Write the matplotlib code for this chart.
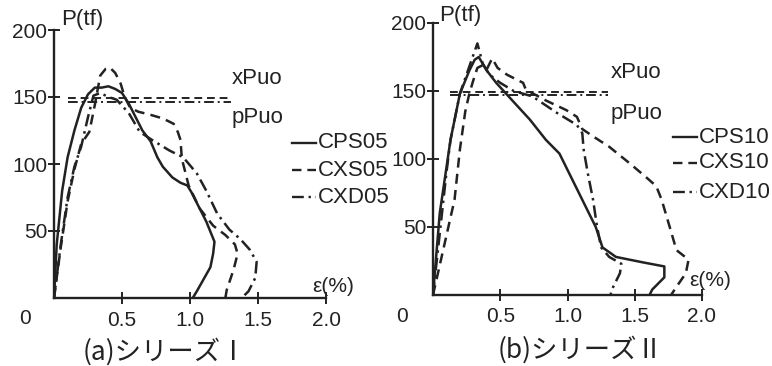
# 荷重-ひずみ曲線 (シリーズI, II)
import matplotlib
matplotlib.use("Agg")
import matplotlib.pyplot as plt
from matplotlib.lines import Line2D

W, H = 772, 366

# ---- シリーズI ----
cps05_x = [0, 0.02, 0.06, 0.10, 0.15, 0.20, 0.25, 0.30, 0.35, 0.40, 0.45, 0.50, 0.55, 0.60, 0.65,
           0.71, 0.76, 0.80, 0.87, 0.93, 0.98, 1.01, 1.07, 1.12, 1.18, 1.17, 1.15, 1.10, 1.05, 1.02]
cps05_y = [0, 40, 80, 105, 125, 142, 152, 157, 157, 158, 156, 153, 145, 135, 125,
           117, 105, 98, 90, 86, 84, 79, 67, 57, 42, 33, 23, 14, 5, 0]
cxs05_x = [0, 0.05, 0.10, 0.15, 0.20, 0.26, 0.30, 0.34, 0.38, 0.41, 0.45, 0.49, 0.52, 0.56, 0.62,
           0.70, 0.80, 0.88, 0.91, 0.93, 0.94, 0.99, 1.07, 1.17, 1.26, 1.33, 1.35, 1.32, 1.27, 1.26]
cxs05_y = [0, 38, 72, 96, 115, 124, 144, 166, 171, 172, 168, 160, 150, 142, 139,
           137, 134, 130, 124, 118, 104, 84, 67, 54, 47, 40, 33, 21, 6, 0]
cxd05_x = [0, 0.05, 0.10, 0.15, 0.20, 0.25, 0.29, 0.34, 0.40, 0.46, 0.55, 0.63, 0.72, 0.85,
           0.95, 1.05, 1.12, 1.20, 1.29, 1.37, 1.44, 1.49, 1.48, 1.43, 1.38]
cxd05_y = [0, 40, 75, 98, 113, 135, 151, 153, 150, 148, 138, 124, 118, 110,
           105, 93, 80, 63, 51, 44, 36, 27, 15, 5, 0]

# ---- シリーズII ----
cps10_x = [0, 0.05, 0.13, 0.20, 0.27, 0.31, 0.34, 0.37, 0.40, 0.47, 0.59, 0.72, 0.84, 0.94,
           1.00, 1.11, 1.21, 1.26, 1.36, 1.56, 1.72, 1.72, 1.63, 1.61]
cps10_y = [0, 60, 114, 148, 165, 173, 175, 170, 165, 156, 143, 129, 114, 104,
           92, 70, 50, 35, 28, 24, 21, 13, 4, 0]
cxs10_x = [0, 0.08, 0.16, 0.20, 0.24, 0.27, 0.30, 0.33, 0.37, 0.40, 0.44, 0.48, 0.55, 0.67,
           0.69, 0.84, 0.99, 1.07, 1.11, 1.20, 1.31, 1.46, 1.58, 1.66, 1.70, 1.76, 1.81, 1.90,
           1.88, 1.81, 1.77]
cxs10_y = [0, 35, 70, 107, 135, 148, 158, 167, 169, 166, 174, 167, 162, 156,
           151, 143, 136, 131, 122, 116, 109, 97, 87, 80, 70, 50, 33, 26,
           16, 6, 0]
cxd10_x = [0, 0.05, 0.10, 0.13, 0.20, 0.27, 0.33, 0.37, 0.42, 0.50, 0.60, 0.74, 0.92, 1.07,
           1.11, 1.12, 1.15, 1.19, 1.22, 1.25, 1.31, 1.40, 1.39, 1.33, 1.32]
cxd10_y = [0, 45, 90, 114, 148, 168, 185, 170, 162, 156, 150, 146, 134, 125,
           119, 107, 90, 70, 50, 35, 28, 23, 16, 4, 0]

# 終局耐力 xPuo, pPuo
puo_a = [149, 146]
puo_b = [149, 147]
puo_a_x = [0.10, 1.30]
puo_b_x = [0.13, 1.30]

x_ticks = [0.5, 1.0, 1.5, 2.0]
x_labels = ["0.5", "1.0", "1.5", "2.0"]
y_ticks = [50, 100, 150, 200]

INK = "#222222"
LS = {"solid": "-", "dash": (0, (4, 2.5)), "dashdot": (0, (5, 2, 1, 2))}

plt.rcParams["font.family"] = ["Liberation Sans", "DejaVu Sans"]


def px(x, y):
    return x / W, 1 - y / H


def make_ax(fig, x0, x2, y0, y200):
    l, b = px(x0, y0)
    r, t = px(x2, y200)
    ax = fig.add_axes([l, b, r - l, t - b])
    ax.set_xlim(0, 2.0)
    ax.set_ylim(0, 200)
    for s in ["top", "right"]:
        ax.spines[s].set_visible(False)
    for s in ["left", "bottom"]:
        ax.spines[s].set_linewidth(1.7)
        ax.spines[s].set_color(INK)
    ax.set_xticks(x_ticks)
    ax.set_xticklabels(x_labels)
    ax.set_yticks(y_ticks)
    ax.tick_params(direction="inout", length=8, width=1.4, labelsize=15,
                   colors=INK)
    ax.tick_params(axis="y", pad=1)
    ax.tick_params(axis="x", pad=5)
    ax.patch.set_alpha(0)
    return ax


def legend(fig, x, ys, names):
    styles = [LS["solid"], LS["dash"], LS["dashdot"]]
    for y, n, st in zip(ys, names, styles):
        fig.add_artist(Line2D([x / W, (x + 24) / W], [1 - y / H, 1 - y / H],
                              color=INK, lw=1.7, linestyle=st))
        fig.text((x + 26) / W, 1 - y / H, n, fontsize=16, color=INK,
                 va="center", ha="left")


def main():
    fig = plt.figure(figsize=(W / 100, H / 100), dpi=100)
    fig.patch.set_facecolor("white")

    # (a)
    ax = make_ax(fig, 54, 326, 298, 30)
    ax.plot(cps05_x, cps05_y, color=INK, lw=1.8, linestyle=LS["solid"])
    ax.plot(cxs05_x, cxs05_y, color=INK, lw=1.8, linestyle=LS["dash"])
    ax.plot(cxd05_x, cxd05_y, color=INK, lw=1.8, linestyle=LS["dashdot"])
    ax.plot(puo_a_x, [puo_a[0]] * 2, color=INK, lw=1.4, linestyle=LS["dash"])
    ax.plot(puo_a_x, [puo_a[1]] * 2, color=INK, lw=1.4, linestyle=LS["dashdot"])

    # (b)
    bx = make_ax(fig, 433, 702, 295, 23)
    bx.plot(cps10_x, cps10_y, color=INK, lw=1.8, linestyle=LS["solid"])
    bx.plot(cxs10_x, cxs10_y, color=INK, lw=1.8, linestyle=LS["dash"])
    bx.plot(cxd10_x, cxd10_y, color=INK, lw=1.8, linestyle=LS["dashdot"])
    bx.plot(puo_b_x, [puo_b[0]] * 2, color=INK, lw=1.4, linestyle=LS["dash"])
    bx.plot(puo_b_x, [puo_b[1]] * 2, color=INK, lw=1.4, linestyle=LS["dashdot"])

    # 軸ラベルなど
    for (x, y, s) in [(61, 20, "P(tf)"), (439, 15, "P(tf)")]:
        fig.text(*px(x, y), s, fontsize=16, color=INK, va="center", ha="left")
    for (x, y) in [(312, 287), (689, 280)]:
        fig.text(*px(x, y), "ε(%)", fontsize=15, color=INK, va="center", ha="left")
    for (x, y) in [(25, 319), (402, 316)]:
        fig.text(*px(x, y), "0", fontsize=15, color=INK, va="center", ha="center")

    fig.text(*px(232, 78), "xPuo", fontsize=16, color=INK, va="center")
    fig.text(*px(232, 118), "pPuo", fontsize=16, color=INK, va="center")
    fig.text(*px(611, 72), "xPuo", fontsize=16, color=INK, va="center")
    fig.text(*px(611, 113), "pPuo", fontsize=16, color=INK, va="center")

    legend(fig, 292, [143, 170, 197], ["CPS05", "CXS05", "CXD05"])
    legend(fig, 673, [137, 163, 192], ["CPS10", "CXS10", "CXD10"])

    cap = ["Noto Sans CJK JP", "DejaVu Sans"]
    fig.text(*px(165, 352), "(a)シリーズⅠ", fontsize=19, color=INK,
             ha="center", va="center", family=cap)
    fig.text(*px(580, 350), "(b)シリーズⅡ", fontsize=19, color=INK,
             ha="center", va="center", family=cap)

    fig.savefig("out.png", dpi=100)


if __name__ == "__main__":
    main()
